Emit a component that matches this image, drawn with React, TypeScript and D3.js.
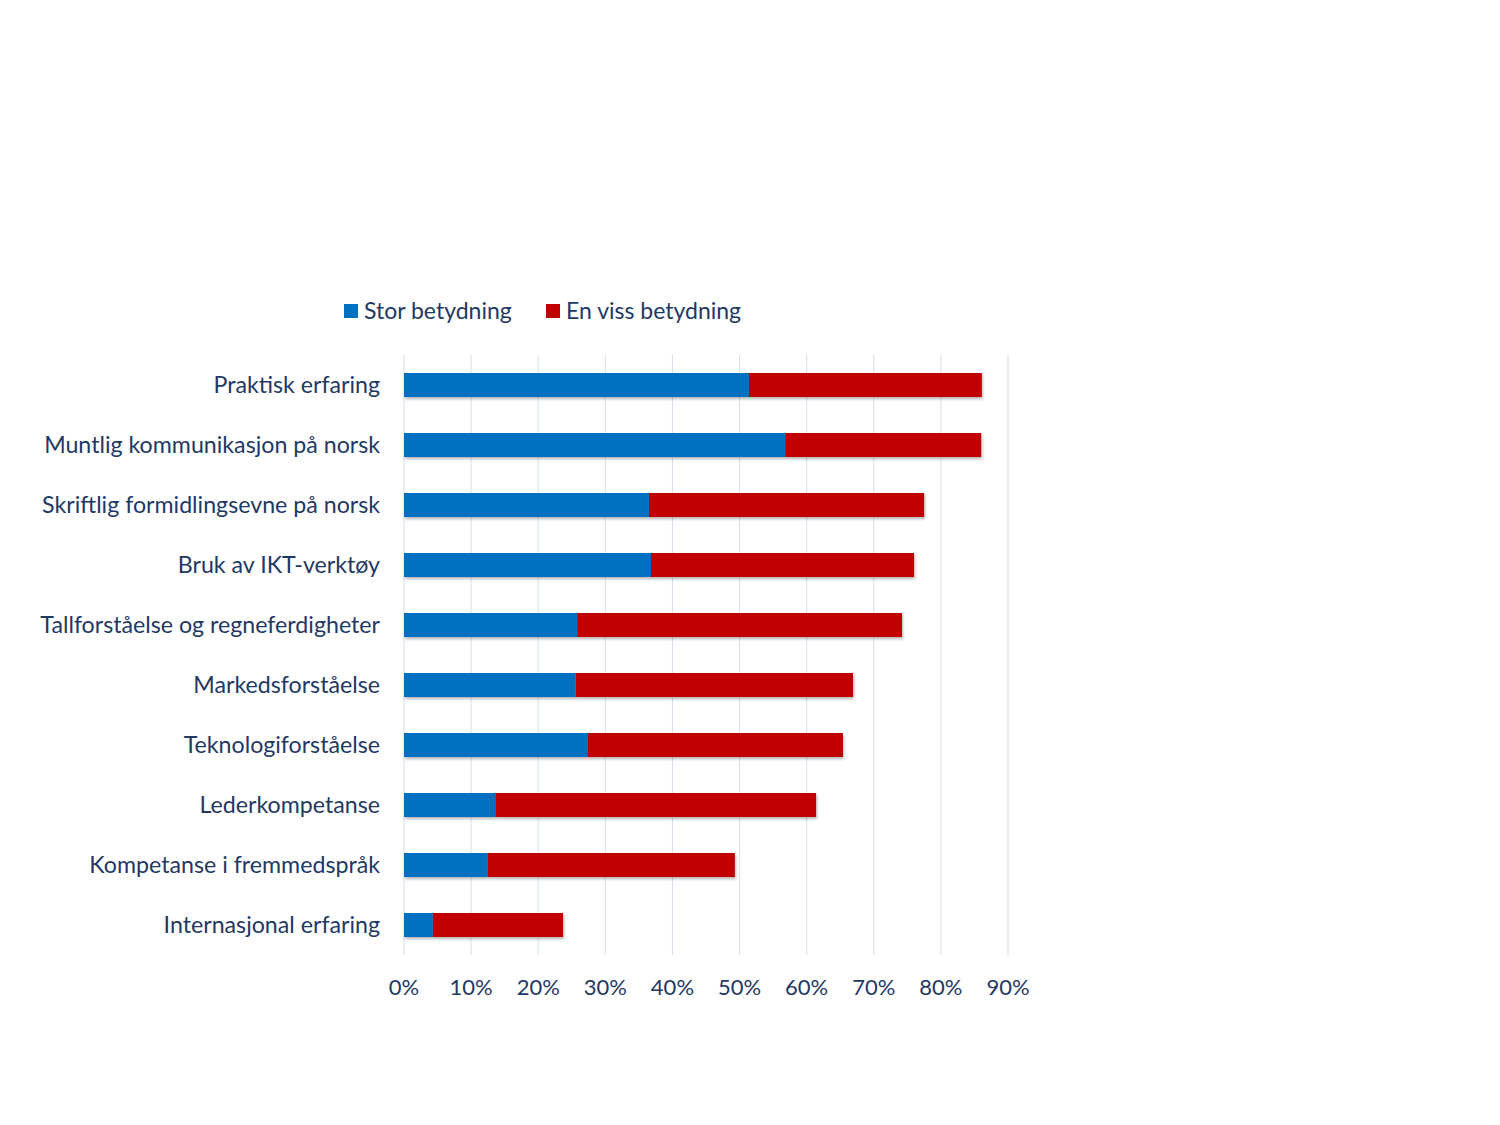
import React from 'react';
import * as d3 from 'd3';

// categories, top to bottom
const categories = [
  'Praktisk erfaring',
  'Muntlig kommunikasjon på norsk',
  'Skriftlig formidlingsevne på norsk',
  'Bruk av IKT-verktøy',
  'Tallforståelse og regneferdigheter',
  'Markedsforståelse',
  'Teknologiforståelse',
  'Lederkompetanse',
  'Kompetanse i fremmedspråk',
  'Internasjonal erfaring',
];

const seriesNames = ['Stor betydning', 'En viss betydning'];
const seriesColors = ['#0070C0', '#C00000'];

// percent values
const storBetydning = [51.4, 56.8, 36.5, 36.8, 25.8, 25.6, 27.4, 13.6, 12.5, 4.3];
const enVissBetydning = [34.7, 29.2, 41.0, 39.2, 48.4, 41.3, 38.0, 47.8, 36.8, 19.4];

const xTicks = [0, 10, 20, 30, 40, 50, 60, 70, 80, 90];

const FONT = 'Lato, "Open Sans", sans-serif';
const TEXT = '#1F3864';

export default function App() {
  const width = 1500;
  const height = 1125;

  const x = d3.scaleLinear().domain([0, 90]).range([404, 1008]);
  const y = d3.scaleBand<string>().domain(categories).range([355, 955]).paddingInner(0.6).paddingOuter(0.3);

  const rows = categories.map((c, i) => ({ cat: c, values: [storBetydning[i], enVissBetydning[i]] }));
  const stacked = d3.stack<any>().keys(['0', '1']).value((d, k) => d.values[+k])(rows);

  return (
    <svg width={width} height={height} style={{ position: 'absolute', left: 0, top: 0 }}>
      <defs>
        <filter id="shadow" x="-5%" y="-30%" width="110%" height="180%">
          <feGaussianBlur in="SourceAlpha" stdDeviation="1.5" />
          <feOffset dx="1" dy="2" result="b" />
          <feComponentTransfer><feFuncA type="linear" slope="0.3" /></feComponentTransfer>
          <feMerge>
            <feMergeNode />
            <feMergeNode in="SourceGraphic" />
          </feMerge>
        </filter>
      </defs>
      <rect width={width} height={height} fill="#fff" />

      {/* gridlines */}
      {xTicks.map(t => (
        <line key={t} x1={x(t)} x2={x(t)} y1={355} y2={955} stroke="#D5DFEC" strokeWidth={1} />
      ))}

      {/* bars */}
      <g filter="url(#shadow)">
        {stacked.map((s, si) =>
          s.map((d, i) => (
            <rect
              key={`${si}-${i}`}
              x={x(d[0])}
              y={y(categories[i])}
              width={x(d[1]) - x(d[0])}
              height={y.bandwidth()}
              fill={seriesColors[si]}
            />
          ))
        )}
      </g>

      {/* category labels */}
      {categories.map(c => (
        <text
          key={c}
          x={380}
          y={(y(c) as number) + y.bandwidth() / 2 - 1}
          textAnchor="end"
          dominantBaseline="central"
          fontFamily={FONT}
          fontSize={23.2}
          fill={TEXT}
        >
          {c}
        </text>
      ))}

      {/* x tick labels */}
      {xTicks.map(t => (
        <text
          key={t}
          x={x(t)}
          y={986}
          textAnchor="middle"
          dominantBaseline="central"
          fontFamily={FONT}
          fontSize={22}
          fill={TEXT}
        >
          {`${t}%`}
        </text>
      ))}

      {/* legend */}
      {seriesNames.map((n, i) => {
        const lx = [344, 546][i];
        return (
          <g key={n}>
            <rect x={lx} y={304} width={14} height={14} fill={seriesColors[i]} />
            <text x={lx + 20} y={310} dominantBaseline="central" fontFamily={FONT} fontSize={23} fill={TEXT}>
              {n}
            </text>
          </g>
        );
      })}
    </svg>
  );
}
